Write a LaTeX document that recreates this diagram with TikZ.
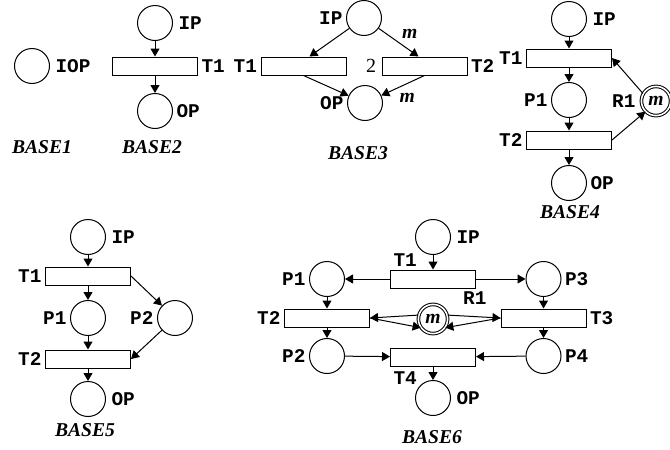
\documentclass[tikz,border=0pt]{standalone}
\usepackage{fontspec}
\setmainfont{Liberation Serif}
\setmonofont{Liberation Mono}
\usetikzlibrary{arrows.meta,positioning,calc}
\begin{document}
\begin{tikzpicture}[x=0.5pt,y=-0.5pt,line width=0.5pt,
  place/.style={circle,draw,minimum size=17.5pt,inner sep=0pt},
  trans/.style={draw,minimum width=42.5pt,minimum height=9pt,inner sep=0pt},
  res/.style={circle,draw,double,double distance=0.8pt,minimum size=14.6pt,inner sep=0pt,
    font=\fontsize{9.8}{10}\selectfont\bfseries\itshape},
  lbl/.style={inner sep=1.5pt,font=\fontsize{9.7}{10}\selectfont\ttfamily\bfseries},
  mlbl/.style={inner sep=1.5pt,font=\fontsize{9.8}{10}\selectfont\bfseries\itshape},
  nettitle/.style={inner sep=0pt,font=\fontsize{9.8}{10}\selectfont\bfseries\itshape},
  flow/.style={-{Triangle[length=4pt,width=4.5pt]}}]
\useasboundingbox (0,0) rectangle (670,450);
% BASE1
\node[place](IOP1) at (32,66){};
\node[lbl,right=1pt of IOP1](IOP1l){IOP};
\node[nettitle](B1) at (42,147){BASE1};
% BASE2
\node[place](IP2) at (155,23){};
\node[trans](T12) at (155,66){};
\node[place](OP2) at (155,111){};
\node[lbl,right=1pt of IP2](IP2l){IP};
\node[lbl,right=0pt of T12](T12l){T1};
\node[lbl,right=0pt of OP2](OP2l){OP};
\draw[flow](IP2)--(T12);
\draw[flow](T12)--(OP2);
\node[nettitle](B2) at (152,147){BASE2};
% BASE3
\node[place](IP3) at (364,18){};
\node[trans](T13) at (303.5,66){};
\node[trans](T23) at (424.5,66){};
\node[place](OP3) at (365,103){};
\node[lbl,left=0pt of IP3](IP3l){IP};
\node[lbl,left=0pt of T13](T13l){T1};
\node[lbl,right=0pt of T23](T23l){T2};
\node[left=1pt of T23,inner sep=1.5pt,font=\fontsize{10}{10}\selectfont](W23){2};
\node[lbl,left=0pt of OP3](OP3l){OP};
\draw[flow](IP3)--($(T13.north)+(6,0)$);
\draw[flow](IP3)--node[mlbl,above right](M13){m}($(T23.north)+(-6,0)$);
\draw[flow](T13.south)--(OP3);
\draw[flow](T23.south)--node[mlbl,pos=0.4,below=3pt](M23){m}(OP3);
\node[nettitle](B3) at (358,153){BASE3};
% BASE4
\node[place](IP4) at (569,19){};
\node[trans](T14) at (569,58){};
\node[place](P14) at (569,100){};
\node[trans](T24) at (569,140){};
\node[place](OP4) at (569,183){};
\node[res](R14) at (656,101){m};
\node[lbl,right=1pt of IP4](IP4l){IP};
\node[lbl,left=0pt of T14](T14l){T1};
\node[lbl,left=0pt of P14](P14l){P1};
\node[lbl,left=0pt of T24](T24l){T2};
\node[lbl,left=1pt of R14](R14l){R1};
\node[lbl,right=0pt of OP4](OP4l){OP};
\draw[flow](IP4)--(T14);
\draw[flow](T14)--(P14);
\draw[flow](P14)--(T24);
\draw[flow](T24)--(OP4);
\draw[flow](R14.150)--(T14.east);
\draw[flow](T24.east)--(R14.225);
\node[nettitle](B4) at (570,212){BASE4};
% BASE5
\node[place](IP5) at (88,237){};
\node[trans](T15) at (88,276){};
\node[place](P15) at (88,318){};
\node[place](P25) at (175,318){};
\node[trans](T25) at (88,359){};
\node[place](OP5) at (88,399){};
\node[lbl,right=1pt of IP5](IP5l){IP};
\node[lbl,left=0pt of T15](T15l){T1};
\node[lbl,left=0pt of P15](P15l){P1};
\node[lbl,left=0pt of P25](P25l){P2};
\node[lbl,left=0pt of T25](T25l){T2};
\node[lbl,right=1pt of OP5](OP5l){OP};
\draw[flow](IP5)--(T15);
\draw[flow](T15)--(P15);
\draw[flow](P15)--(T25);
\draw[flow](T25)--(OP5);
\draw[flow](T15.east)--(P25);
\draw[flow](P25)--(T25.east);
\node[nettitle](B5) at (85,430){BASE5};
% BASE6
\node[place](IP6) at (433,237){};
\node[trans](T16) at (433,279){};
\node[place](P16) at (327,279){};
\node[place](P36) at (543.5,279){};
\node[trans](T26) at (327,318){};
\node[res](R16) at (433,319){m};
\node[trans](T36) at (543.5,318){};
\node[place](P26) at (327,356){};
\node[trans](T46) at (433,357){};
\node[place](P46) at (543.5,356){};
\node[place](OP6) at (433,398){};
\node[lbl,right=1pt of IP6](IP6l){IP};
\node[lbl,above right=0pt and 0pt of T16.north west](T16l){T1};
\node[lbl,left=0pt of P16](P16l){P1};
\node[lbl,right=0pt of P36](P36l){P3};
\node[lbl,left=0pt of T26](T26l){T2};
\node[lbl,above right=0pt and 8pt of R16.north east](R16l){R1};
\node[lbl,right=0pt of T36](T36l){T3};
\node[lbl,left=0pt of P26](P26l){P2};
\node[lbl,below right=1pt and 0pt of T46.south west](T46l){T4};
\node[lbl,right=0pt of P46](P46l){P4};
\node[lbl,right=1pt of OP6](OP6l){OP};
\draw[flow](IP6)--(T16);
\draw[flow](T16)--(P16);
\draw[flow](T16)--(P36);
\draw[flow](P16)--(T26);
\draw[flow](P36)--(T36);
\draw[flow](T26)--(P26);
\draw[flow](T36)--(P46);
\draw[flow](P26)--(T46);
\draw[flow](P46)--(T46);
\draw[flow](T46)--(OP6);
\draw[flow](R16.165)--(T26.east);
\draw[flow](T26.east)--(R16.215);
\draw[flow](R16.15)--(T36.west);
\draw[flow](T36.west)--(R16.-35);
\node[nettitle](B6) at (432,437){BASE6};
\end{tikzpicture}
\end{document}
